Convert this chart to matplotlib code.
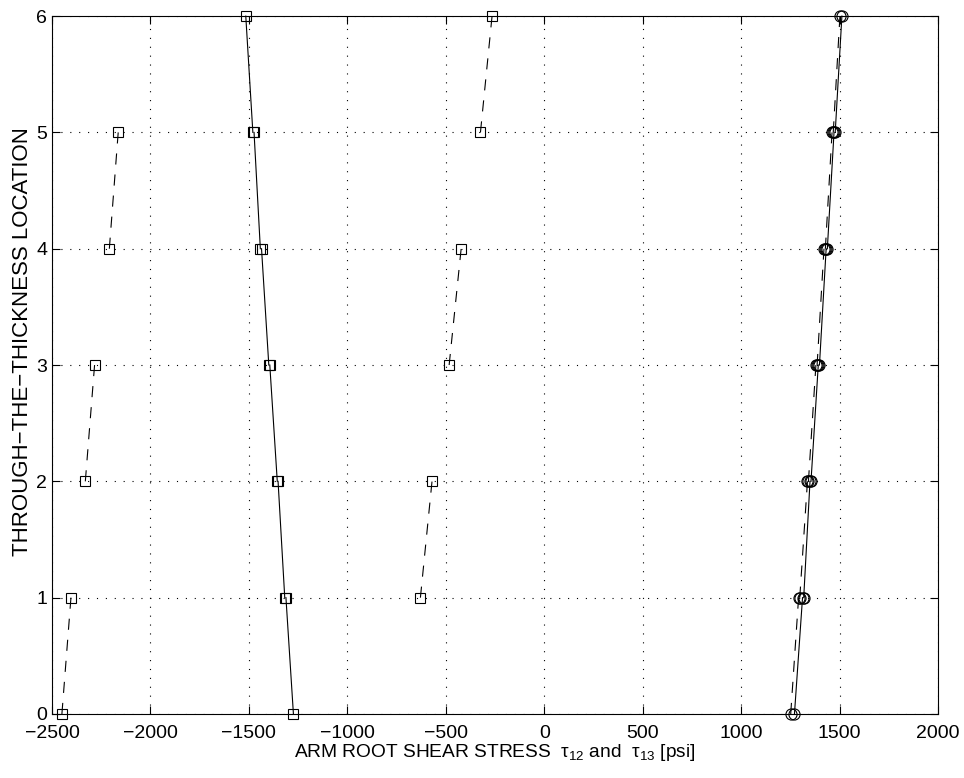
import numpy as np
import matplotlib
matplotlib.use("Agg")
import matplotlib.pyplot as plt

plt.rcParams['font.family'] = ['Liberation Sans', 'DejaVu Sans']
plt.rcParams['mathtext.fontset'] = 'custom'
plt.rcParams['mathtext.it'] = 'Liberation Sans'
plt.rcParams['mathtext.rm'] = 'Liberation Sans'

# ply boundaries (through-the-thickness location)
levels = [0, 1, 2, 3, 4, 5, 6]

# tau13, dashed with squares: [bottom, top] of each ply
tau13_sq = [[-2450, -2404], [-629, -570], [-2331, -2284],
            [-483, -422], [-2209, -2164], [-324, -265]]

# tau12, solid with squares: [bottom, top] of each ply
tau12_sq = [[-1274, -1312], [-1318, -1352], [-1356, -1394],
            [-1399, -1436], [-1442, -1474], [-1480, -1516]]

# solid with circles
circ_solid = [[1271, 1312], [1318, 1350], [1355, 1392],
              [1398, 1432], [1438, 1472], [1478, 1512]]

# dashed with circles
circ_dash = [[1252, 1292], [1298, 1337], [1342, 1380],
             [1386, 1421], [1428, 1462], [1468, 1502]]

fig = plt.figure(figsize=(9.64, 7.78), dpi=100)
ax = fig.add_axes([0.054, 0.0823, 0.919, 0.897])

for i in range(6):
    yy = [levels[i], levels[i + 1]]
    ax.plot(tau13_sq[i], yy, 'k--', marker='s', mfc='none', ms=7, lw=0.8, mew=0.8, dashes=(10, 9))
    ax.plot(tau12_sq[i], yy, 'k-', marker='s', mfc='none', ms=7, lw=0.8, mew=0.8)
    ax.plot(circ_dash[i], yy, 'k--', marker='o', mfc='none', ms=8, lw=0.8, mew=0.8, dashes=(10, 9))
    ax.plot(circ_solid[i], yy, 'k-', marker='o', mfc='none', ms=8, lw=0.8, mew=0.8)

ax.set_xlim(-2500, 2000)
ax.set_ylim(0, 6)
ax.set_xticks(np.arange(-2500, 2001, 500))
ax.set_yticks(levels)
ax.grid(True, color='k', linestyle=(0, (1, 7)), linewidth=0.8)
ax.tick_params(direction='in', top=True, right=True, labelsize=14, length=6)
ax.tick_params(axis='x', pad=8)
for s in ax.spines.values():
    s.set_linewidth(0.8)
for ln in ax.lines:
    ln.set_clip_on(False)

ax.set_xlabel(r'ARM ROOT SHEAR STRESS  $\tau_{12}$ and  $\tau_{13}$ [psi]', fontsize=13.8, labelpad=0)
ax.set_ylabel('THROUGH\u2212THE\u2212THICKNESS LOCATION', fontsize=16, labelpad=4)
ax.yaxis.set_label_coords(-0.022, 0.534)

fig.savefig('out.png', dpi=100)
